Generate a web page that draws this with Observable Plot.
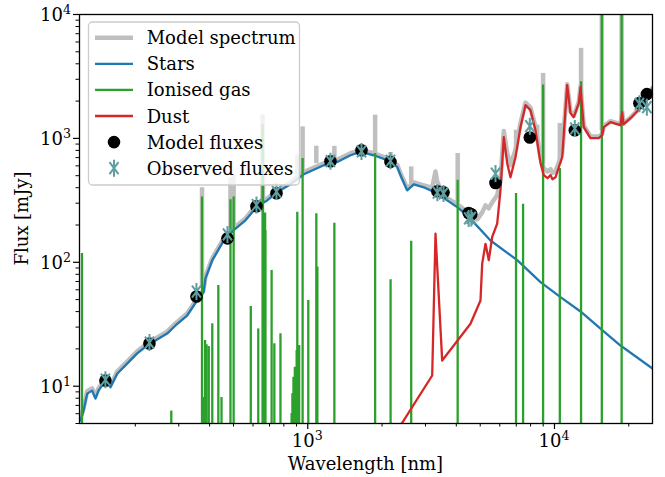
<!DOCTYPE html>
<html><head><meta charset="utf-8">
<script src="https://cdn.jsdelivr.net/npm/d3@7"></script>
<script src="https://cdn.jsdelivr.net/npm/@observablehq/plot@0.6"></script>
<style>html,body{margin:0;padding:0;background:#fff;}</style>
</head><body><div id="chart"></div>
<script>
// ---- Stars (stellar emission) ----
const starWl = [119.9,123.3,127.6,133.7,137.9,141.8,151.3,158.6,168.8,185.3,203.5,223.4,230.4,269.2,290.9,324.4,356.3,377.8,384.9,409.9,456.6,499.7,559.0,623.6,684.6,751.6,850.9,963.4,1161,1316,1490,1636,1852,2098,2304,2376,2529,2690,2952,3346,3674,4033,4428,4709,5504,7060,8776,10576,12746,15362,18514,24960];
const starFlux = [5.27,6.35,8.71,9.21,7.94,9.21,11.1,9.8,12.6,15.2,18.4,21.3,22.1,26.6,30.9,37.2,49.2,57.0,74.1,103.6,150.2,181.0,218.1,283.1,316,367,426,514,607,646,731,778,731,667,589,505,381,426,403,359,316,279,239,210,150,104,69.2,52.3,40.1,29.2,21.3,13.9];

// ---- Model spectrum (continuum) ----
const modelWl = [119.9,123.3,127.6,133.7,137.9,141.8,151.3,158.6,168.8,185.3,203.5,223.4,230.4,269.2,290.9,324.4,356.3,377.8,384.9,409.9,456.6,499.7,559.0,623.6,684.6,751.6,850.9,963.4,1161,1316,1490,1636,1852,2098,2304,2376,2529,2690,2952,3194,3294,3346,3506,3674,4033,4428,4861,5093,5253,5417,5591,5857,6041,6230,6431,6632,6949,7281,7629,7993,8375,8776,9050,9368,9634,9815,10094,10409,10745,11258,11611,11974,12546,12746,13145,13991,15120,15608,15843,16866,17394,18514,18810,19040,20330,23030,24960];
const modelFlux = [5.5,6.6,9.1,9.6,8.3,9.6,11.6,10.2,13.1,15.8,19.1,22.1,23.0,27.6,32.1,38.6,51.1,59.2,77,107.5,156,188,226,294,328,381,442,534,630,671,759,808,759,692,611,524,395,442,418,400,540,450,365,330,295,255,222,253,288,273,305,347,459,1150,760,607,812,1330,1945,1775,1242,701,571,540,565,526,540,638,755,2739,1645,1526,1969,2634,1271,1038,1034,1091,1261,1378,1352,1301,1651,1322,1475,1905,2561];

// ---- Model spectrum emission-line spikes ----
const spikeWl = [372.7,486.1,500.7,656.3,658.4,906.9,953.1,1083,1281.8,1875.1,2166,2626,4051,6985,8511,8991,10510,12814,15555,18713];
const spikeBase = [62,170,185,300,300,470,520,625,660,760,690,420,300,800,950,620,620,2100,1150,1300];
const spikeTop = [400,480,504,1550,800,733,1239,865,863,1540,770,589,755,1165,1280,3347,1320,5330,30000,20000];

// ---- Ionised gas (emission lines) ----
const gasWl = [121.6,279.8,372.7,377.1,383.5,386.9,388.9,396.9,410.2,434.0,447.1,486.1,500.7,587.6,630.0,656.3,658.4,671.6,673.1,713.6,732.0,775.1,859.8,866.5,875.0,886.3,901.5,906.9,922.9,953.1,1004.9,1083.0,1093.8,1281.8,1875.1,2166.1,2625.9,4051.2,6985,7460,8991,10510,12814,15555,18713];
const gasFlux = [118,6.3,337,8.1,23.4,19.4,21.6,20.9,31.9,65,8.1,320,337,44,29,1300,480,250,180,86,22,26.5,6.0,8.7,11.8,14.2,19.4,253,21.3,688,49.2,247,91.5,207,755,72.3,148,459,359,294,2692,571,2864,30000,20000];

// ---- Dust ----
const dustWl = [2332,3194,3294,3506,4566,5012,5093,5253,5417,5591,5857,6041,6230,6431,6632,6949,7281,7629,7993,8375,8776,9050,9368,9634,9815,10094,10409,10745,11258,11611,11974,12546,12746,13145,13991,15120,15608,15843,16866,17394,18514,18810,19040,20330,23030,24960];
const dustFlux = [4.54,12.2,170,16.1,31.9,49.2,97.5,141,104,160,205,381,1023,631,485,705,1233,1855,1690,1164,631,505,477,505,468,485,585,705,2692,1600,1483,1928,2594,1233,1004,1004,1062,1233,1352,1327,1279,1629,1300,1456,1889,2547];

// ---- Photometry ----
const bandWl = [151.3,228.2,353.9,472.6,619.6,746.8,1236,1651,2164,3352,3550,4490,4600,5766,7943,12087,22090,23680];
const modelPhot = [11.1,22.1,53.0,156,283,361,654,803,646,374,367,250,244,437,1017,1165,1925,2277];
const obsPhot = [11.3,22.5,58,168,290,372,655,785,660,365,360,226,228,520,1255,1202,1900,1787];

// ---- Axes ----
const xMajor = [1000, 10000], xMajorExp = ["3", "4"];
const xMinor = [200,300,400,500,600,700,800,900,2000,3000,4000,5000,6000,7000,8000,9000,20000];
const yMajor = [10, 100, 1000, 10000], yMajorExp = ["1", "2", "3", "4"];
const yMinor = [5,6,7,8,9,20,30,40,50,60,70,80,90,200,300,400,500,600,700,800,900,2000,3000,4000,5000,6000,7000,8000,9000];
const xLabel = "Wavelength [nm]", yLabel = "Flux [mJy]";
const legendLabels = ["Model spectrum","Stars","Ionised gas","Dust","Model fluxes","Observed fluxes"];

const GRAY = "#bfbfbf", BLUE = "#1f77b4", GREEN = "#2ca02c", RED = "#d62728", TEAL = "#5f9ea0";
const FONT = "DejaVu Serif", FS = 18, SUP = 12.6;

const pairs = (a, b) => a.map((v, i) => ({wl: v, f: b[i]}));
const stars = pairs(starWl, starFlux);
const model = pairs(modelWl, modelFlux);
const dust = pairs(dustWl, dustFlux);
const gas = pairs(gasWl, gasFlux);
const spikes = spikeWl.map((v, i) => ({wl: v, base: spikeBase[i], top: spikeTop[i]}));
const modPts = pairs(bandWl, modelPhot);
const obsPts = pairs(bandWl, obsPhot);

const obsSymbol = {draw(ctx) {
  ctx.moveTo(0, -8.5); ctx.lineTo(0, 8.5);
  ctx.moveTo(-4.5, -6); ctx.lineTo(4.5, 6);
  ctx.moveTo(4.5, -6); ctx.lineTo(-4.5, 6);
}};

const plot = Plot.plot({
  width: 665, height: 477,
  marginLeft: 79, marginRight: 13, marginTop: 14, marginBottom: 54,
  style: {fontFamily: FONT, fontSize: FS + "px", background: "white", color: "black", overflow: "visible"},
  x: {type: "log", domain: [118.8, 24960]},
  y: {type: "log", domain: [5, 10000]},
  marks: [
    Plot.line(model, {x: "wl", y: "f", stroke: GRAY, strokeWidth: 4.5, clip: true}),
    Plot.ruleX(spikes, {x: "wl", y1: "base", y2: "top", stroke: GRAY, strokeWidth: 4.5, clip: true}),
    Plot.line(stars, {x: "wl", y: "f", stroke: BLUE, strokeWidth: 2.3, clip: true}),
    Plot.ruleX(gas, {x: "wl", y1: () => 1, y2: "f", stroke: GREEN, strokeWidth: 2.3, clip: true}),
    Plot.line(dust, {x: "wl", y: "f", stroke: RED, strokeWidth: 2.3, clip: true}),
    Plot.dot(modPts, {x: "wl", y: "f", r: 6.3, fill: "black", stroke: "none"}),
    Plot.dot(obsPts, {x: "wl", y: "f", symbol: obsSymbol, fill: "none", stroke: TEAL, strokeWidth: 2}),
    Plot.frame({stroke: "black", strokeWidth: 1.3}),
    Plot.axisX({ticks: xMajor, tickSize: 6, tickFormat: () => "", label: null, strokeWidth: 1.2}),
    Plot.axisX({ticks: xMinor, tickSize: 3.5, tickFormat: () => "", label: null, strokeWidth: 1}),
    Plot.axisY({ticks: yMajor, tickSize: 6, tickFormat: () => "", label: null, strokeWidth: 1.2}),
    Plot.axisY({ticks: yMinor, tickSize: 3.5, tickFormat: () => "", label: null, strokeWidth: 1})
  ]
});
document.getElementById("chart").appendChild(plot);

const xs = plot.scale("x"), ys = plot.scale("y");
const svg = d3.select(plot);
const ann = svg.append("g").attr("font-family", FONT).attr("font-size", FS).attr("fill", "black");

xMajor.forEach((v, i) => {
  const t = ann.append("text").attr("x", xs.apply(v)).attr("y", 447).attr("text-anchor", "middle");
  t.append("tspan").text("10");
  t.append("tspan").attr("dy", -7).attr("font-size", SUP).text(xMajorExp[i]);
});
yMajor.forEach((v, i) => {
  const t = ann.append("text").attr("x", 71).attr("y", ys.apply(v) + 6.8).attr("text-anchor", "end");
  t.append("tspan").text("10");
  t.append("tspan").attr("dy", -7).attr("font-size", SUP).text(yMajorExp[i]);
});
ann.append("text").attr("x", 365.5).attr("y", 470).attr("text-anchor", "middle").text(xLabel);
ann.append("text").attr("transform", "translate(28,218.5) rotate(-90)").attr("text-anchor", "middle").text(yLabel);

// legend
const lg = svg.append("g").attr("font-family", FONT).attr("font-size", FS).attr("text-anchor", "start");
lg.append("rect").attr("x", 88.5).attr("y", 22).attr("width", 211).attr("height", 163).attr("rx", 4)
  .attr("fill", "white").attr("fill-opacity", 0.8).attr("stroke", "#cccccc").attr("stroke-width", 1.3);
const rowY = i => 37.7 + i * 26.1;
const lineStyles = [[GRAY, 4.5], [BLUE, 2.3], [GREEN, 2.3], [RED, 2.3]];
lineStyles.forEach(([c, w], i) => {
  lg.append("line").attr("x1", 95).attr("x2", 133).attr("y1", rowY(i)).attr("y2", rowY(i)).attr("stroke", c).attr("stroke-width", w);
});
lg.append("circle").attr("cx", 114).attr("cy", rowY(4)).attr("r", 6.3).attr("fill", "black");
lg.append("path").attr("transform", `translate(114,${rowY(5)})`)
  .attr("d", "M0,-8.5L0,8.5M-4.5,-6L4.5,6M4.5,-6L-4.5,6").attr("stroke", TEAL).attr("stroke-width", 2).attr("fill", "none");
legendLabels.forEach((s, i) => {
  lg.append("text").attr("x", 146.7).attr("y", rowY(i) + 6.5).attr("text-anchor", "start").text(s);
});
</script>
</body></html>
